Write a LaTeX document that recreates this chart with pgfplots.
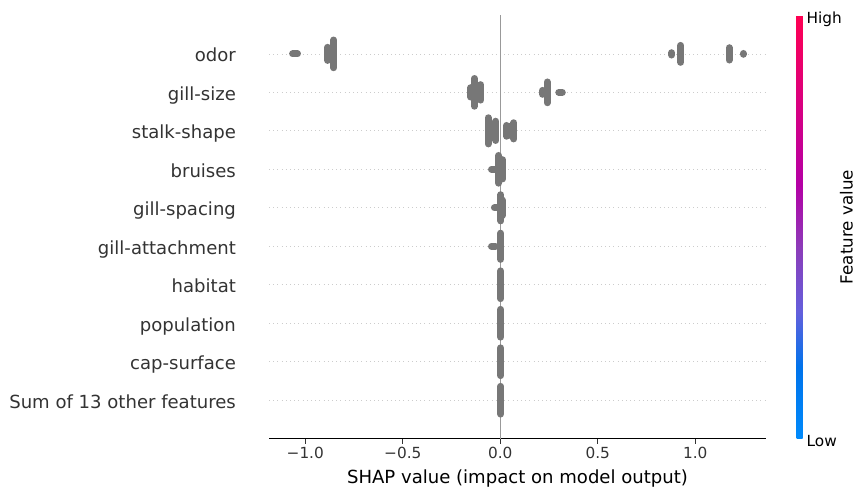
\documentclass[border=0pt]{standalone}
\usepackage{pgfplots}
\pgfplotsset{compat=1.18}
\usepackage{fontspec}
\setmainfont{DejaVu Sans}
\definecolor{dotgray}{HTML}{777777}
\definecolor{zerogray}{HTML}{999999}
\definecolor{gridgray}{HTML}{CCCCCC}
\definecolor{axgray}{HTML}{333333}
\pgfplotsset{
  colormap={shapredblue}{rgb255(0)=(0,138,251) rgb255(0.17)=(0,115,235) rgb255(0.3)=(100,95,220) rgb255(0.45)=(140,60,185) rgb255(0.6)=(180,0,165) rgb255(0.78)=(215,0,130) rgb255(1)=(255,0,82)}
}
\begin{document}
\begin{tikzpicture}
\useasboundingbox (0,0) rectangle (866bp,497bp);
\begin{axis}[
  at={(269bp,58.3bp)}, anchor=south west,
  width=497bp, height=423.3bp, scale only axis,
  xmin=-1.186, xmax=1.3626, ymin=0, ymax=11,
  axis x line*=bottom, axis y line*=left,
  y axis line style={draw=none},
  x axis line style={line width=1.1bp, black},
  xtick={-1,-0.5,0,0.5,1},
  xticklabels={−1.0,−0.5,0.0,0.5,1.0},
  tick align=outside,
  x tick style={line width=1.1bp, axgray},
  major tick length=4.9bp,
  ytick={1,...,10},
  yticklabels={Sum of 13 other features,cap-surface,population,habitat,gill-attachment,gill-spacing,bruises,stalk-shape,gill-size,odor},
  y tick style={draw=none},
  ymajorgrids,
  grid style={gridgray, line width=0.7bp, dash pattern=on 0.7bp off 3.5bp},
  xticklabel style={font=\fontsize{15.3bp}{18bp}\selectfont, text=axgray, anchor=base, inner sep=0pt, yshift=-15bp},
  yticklabel style={font=\fontsize{18.06bp}{21bp}\selectfont, text=axgray, anchor=base east, inner sep=0pt, xshift=-28bp, yshift=-8bp},
  xlabel={SHAP value (impact on model output)},
  xlabel style={font=\fontsize{18.06bp}{21bp}\selectfont, at={(axis description cs:0.5,0)}, anchor=base, inner sep=0pt, yshift=-45.3bp},
  colormap name=shapredblue,
  point meta min=0, point meta max=1,
  colorbar,
  colorbar style={
    at={(parent axis.north east)}, anchor=north west, xshift=22bp,
    width=6bp,
    axis line style={draw=none},
    ytick={0,1}, yticklabels={Low,High},
    major tick length=0pt,
    yticklabel style={font=\fontsize{15.3bp}{18bp}\selectfont, anchor=base west, inner sep=0pt, xshift=4bp, yshift=-7.8bp},
    ylabel={Feature value},
    ylabel style={font=\fontsize{16.7bp}{20bp}\selectfont, at={(axis description cs:1,0.5)}, anchor=center, inner sep=0pt, yshift=-44bp},
  },
  clip=false,
]
% zero line
\addplot[zerogray, line width=1.4bp] coordinates {(0,0) (0,11)};

% beeswarm clusters (vertical stacks of points drawn as rounded strokes)
\addplot[dotgray, line width=7bp, line cap=round, unbounded coords=jump] coordinates {
% odor
(-1.065,10) (-1.040,10) (0,nan)
(-0.854,9.64) (-0.854,10.36) (0,nan)
(-0.885,9.83) (-0.885,10.17) (0,nan)
(0.925,9.78) (0.925,10.22) (0,nan)
(0.879,9.97) (0.879,10.03) (0,nan)
(1.174,9.84) (1.174,10.16) (0,nan)
(1.246,9.99) (1.246,10.01) (0,nan)
% gill-size
(-0.133,8.64) (-0.133,9.36) (0,nan)
(-0.100,8.80) (-0.100,9.20) (0,nan)
(-0.152,8.88) (-0.152,9.12) (0,nan)
(0.241,8.73) (0.241,9.27) (0,nan)
(0.217,8.95) (0.217,9.05) (0,nan)
(0.300,9) (0.318,9) (0,nan)
% stalk-shape
(-0.062,7.66) (-0.062,8.34) (0,nan)
(-0.022,7.75) (-0.022,8.25) (0,nan)
(0.033,7.86) (0.033,8.14) (0,nan)
(0.050,7.88) (0.050,8.12) (0,nan)
(0.070,7.79) (0.070,8.21) (0,nan)
% bruises
(-0.008,6.64) (-0.008,7.36) (0,nan)
(0.012,6.75) (0.012,7.25) (0,nan)
(-0.045,7) (-0.030,7) (0,nan)
% gill-spacing
(0.003,5.66) (0.003,6.34) (0,nan)
(0.010,5.80) (0.010,6.20) (0,nan)
(-0.030,6) (-0.015,6) (0,nan)
% gill-attachment
(0.002,4.66) (0.002,5.34) (0,nan)
(-0.045,5) (-0.025,5) (0,nan)
% habitat
(0.002,3.64) (0.002,4.36) (0,nan)
% population
(0.002,2.64) (0.002,3.36) (0,nan)
% cap-surface
(0.002,1.64) (0.002,2.36) (0,nan)
% sum of 13 other features
(0.002,0.64) (0.002,1.36)
};
\end{axis}
\end{tikzpicture}
\end{document}
